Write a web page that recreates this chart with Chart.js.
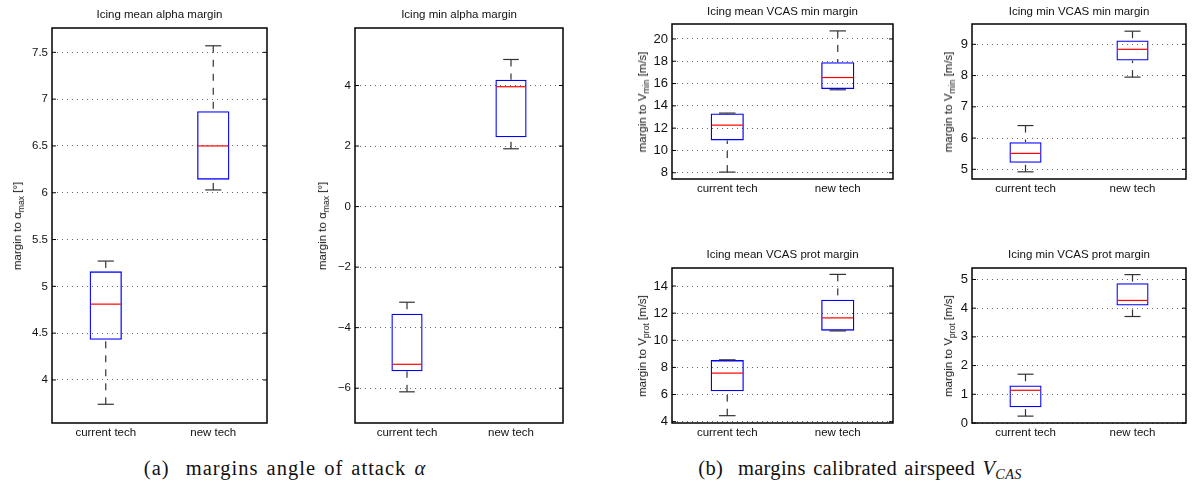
<!DOCTYPE html>
<html>
<head>
<meta charset="utf-8">
<script src="https://cdn.jsdelivr.net/npm/chart.js@4.4.0/dist/chart.umd.min.js"></script>
<style>
  body { margin: 0; width: 1192px; height: 486px; background: #fff; position: relative; overflow: hidden; font-family: "Liberation Sans", Arial, sans-serif; }
  .panel { position: absolute; }
  .ylab { position: absolute; font-size: 11.5px; white-space: nowrap; transform: translate(-50%, -50%) rotate(-90deg); color: #111; }
  .ylab sub { font-size: 75%; vertical-align: -0.35em; line-height: 0; }
  .cap { position: absolute; font-family: "Liberation Serif", "DejaVu Serif", serif; font-size: 20.5px; word-spacing: 2px; white-space: nowrap; transform: translate(-50%, -50%); color: #111; }
  .cap sub { font-size: 70%; vertical-align: -0.3em; line-height: 0; }
</style>
</head>
<body>
<div class="cap" style="left:285px; top:468px; letter-spacing:1px">(a)&nbsp; margins angle of attack <i>α</i></div>
<div class="cap" style="left:860px; top:468px; letter-spacing:0.3px">(b)&nbsp; margins calibrated airspeed <i>V<sub>CAS</sub></i></div>
<script>
const categories = ['current tech', 'new tech'];

// [lower whisker, q1, median, q3, upper whisker]
const meanAlphaCurrent = [3.74, 4.43, 4.81, 5.16, 5.27];
const meanAlphaNew = [6.03, 6.14, 6.50, 6.87, 7.57];
const minAlphaCurrent = [-6.12, -5.44, -5.21, -3.54, -3.16];
const minAlphaNew = [1.91, 2.29, 3.96, 4.19, 4.86];
const meanVminCurrent = [8.06, 10.90, 12.27, 13.32, 13.35];
const meanVminNew = [15.44, 15.50, 16.54, 17.91, 20.72];
const minVminCurrent = [4.92, 5.21, 5.51, 5.87, 6.40];
const minVminNew = [7.95, 8.48, 8.84, 9.12, 9.42];
const meanVprotCurrent = [4.44, 6.24, 7.58, 8.54, 8.56];
const meanVprotNew = [10.69, 10.71, 11.65, 12.99, 14.86];
const minVprotCurrent = [0.24, 0.55, 1.14, 1.31, 1.70];
const minVprotNew = [3.71, 4.09, 4.27, 4.87, 5.17];

const meanAlphaTicks = [4, 4.5, 5, 5.5, 6, 6.5, 7, 7.5];
const minAlphaTicks = [-6, -4, -2, 0, 2, 4];
const meanVminTicks = [8, 10, 12, 14, 16, 18, 20];
const minVminTicks = [5, 6, 7, 8, 9];
const meanVprotTicks = [4, 6, 8, 10, 12, 14];
const minVprotTicks = [0, 1, 2, 3, 4, 5];

const panels = [
  { title: 'Icing mean alpha margin', ylab: 'margin to α<sub>max</sub> [°]', stats: [meanAlphaCurrent, meanAlphaNew],
    ticks: meanAlphaTicks, min: 3.54, max: 7.76, area: [52, 28, 267, 423], titleY: 15, ylabX: 17, tickSize: 11.5 },
  { title: 'Icing min alpha margin', ylab: 'margin to α<sub>max</sub> [°]', stats: [minAlphaCurrent, minAlphaNew],
    ticks: minAlphaTicks, min: -7.15, max: 5.9, area: [355, 28, 563, 423], titleY: 15, ylabX: 322, tickSize: 11.5 },
  { title: 'Icing mean VCAS min margin', ylab: 'margin to V<sub>min</sub> [m/s]', stats: [meanVminCurrent, meanVminNew],
    ticks: meanVminTicks, min: 7.44, max: 21.34, area: [672, 24, 893, 179], titleY: 12, ylabX: 642, tickSize: 13 },
  { title: 'Icing min VCAS min margin', ylab: 'margin to V<sub>min</sub> [m/s]', stats: [minVminCurrent, minVminNew],
    ticks: minVminTicks, min: 4.69, max: 9.65, area: [972, 24, 1186, 179], titleY: 12, ylabX: 948, tickSize: 13 },
  { title: 'Icing mean VCAS prot margin', ylab: 'margin to V<sub>prot</sub> [m/s]', stats: [meanVprotCurrent, meanVprotNew],
    ticks: meanVprotTicks, min: 3.9, max: 15.33, area: [672, 268, 893, 423], titleY: 255, ylabX: 642, tickSize: 13 },
  { title: 'Icing min VCAS prot margin', ylab: 'margin to V<sub>prot</sub> [m/s]', stats: [minVprotCurrent, minVprotNew],
    ticks: minVprotTicks, min: 0, max: 5.4, area: [972, 268, 1186, 423], titleY: 255, ylabX: 948, tickSize: 13 },
];

// whiskers, medians, frame and inward ticks, matlab style
const boxPlot = {
  id: 'boxPlot',
  afterDatasetsDraw(chart, args, opts) {
    const { ctx, chartArea: a, scales: { x, y } } = chart;
    const meta = chart.getDatasetMeta(0);
    const line = (x1, y1, x2, y2) => { ctx.beginPath(); ctx.moveTo(x1, y1); ctx.lineTo(x2, y2); ctx.stroke(); };
    ctx.save();
    opts.stats.forEach((s, i) => {
      const cx = x.getPixelForValue(i);
      const half = meta.data[i].width / 2;
      const [lo, q1, med, q3, hi] = s.map(v => y.getPixelForValue(v));
      ctx.strokeStyle = '#333';
      ctx.lineWidth = 1.2;
      ctx.setLineDash([7, 7]);
      line(cx, hi, cx, q3);
      line(cx, lo, cx, q1);
      ctx.setLineDash([]);
      line(cx - half / 2, hi, cx + half / 2, hi);
      line(cx - half / 2, lo, cx + half / 2, lo);
      ctx.strokeStyle = '#ff0000';
      line(cx - half + 1, med, cx + half - 1, med);
    });
    ctx.strokeStyle = '#000';
    ctx.lineWidth = 1.5;
    ctx.strokeRect(a.left, a.top, a.right - a.left, a.bottom - a.top);
    ctx.lineWidth = 1;
    y.ticks.forEach(t => {
      const py = y.getPixelForValue(t.value);
      line(a.left, py, a.left + 4, py);
      line(a.right - 4, py, a.right, py);
    });
    ctx.restore();
  }
};

const font = { family: '"Liberation Sans", Arial, sans-serif', size: 11.5, lineHeight: 1.2 };

panels.forEach(p => {
  const [L, T, R, B] = p.area;
  const top = p.titleY - 10;
  const div = document.createElement('div');
  div.className = 'panel';
  div.style.left = (L - 50) + 'px';
  div.style.top = top + 'px';
  div.style.width = (R - L + 100) + 'px';
  div.style.height = (B - top + 22) + 'px';
  const canvas = document.createElement('canvas');
  div.appendChild(canvas);
  document.body.appendChild(div);

  const lab = document.createElement('div');
  lab.className = 'ylab';
  lab.style.left = p.ylabX + 'px';
  lab.style.top = ((T + B) / 2) + 'px';
  lab.innerHTML = p.ylab;
  document.body.appendChild(lab);

  new Chart(canvas, {
    type: 'bar',
    data: {
      labels: categories,
      datasets: [{
        data: p.stats.map(s => [s[1], s[3]]),
        backgroundColor: 'rgba(0,0,0,0)',
        borderColor: '#0000ff',
        borderWidth: 1.3,
        borderSkipped: false,
        barPercentage: 0.3,
        categoryPercentage: 1,
      }]
    },
    plugins: [boxPlot],
    options: {
      responsive: true,
      maintainAspectRatio: false,
      animation: false,
      layout: { padding: 0 },
      plugins: {
        legend: { display: false },
        tooltip: { enabled: false },
        title: {
          display: true,
          text: p.title,
          color: '#111',
          font: { ...font, weight: 'normal' },
          padding: { top: 3.1, bottom: (T - top) - 3.1 - 13.8 }
        },
        boxPlot: { stats: p.stats }
      },
      scales: {
        x: {
          grid: { display: false, drawTicks: false },
          border: { display: false },
          ticks: { color: '#111', font, padding: 3 },
          afterFit: s => { s.height = 22; }
        },
        y: {
          min: p.min,
          max: p.max,
          afterBuildTicks: s => { s.ticks = p.ticks.map(v => ({ value: v })); },
          grid: { color: 'rgba(0,0,0,0.6)', lineWidth: 1, drawTicks: false },
          border: { display: false, dash: [1, 4] },
          ticks: { color: '#111', font: { ...font, size: p.tickSize }, padding: 4, callback: v => String(v).replace('-', '\u2212') },
          afterFit: s => { s.width = 50; }
        },
        // empty right axis keeps the plot centred under the title
        yRight: {
          position: 'right',
          min: p.min,
          max: p.max,
          grid: { display: false, drawTicks: false },
          border: { display: false },
          ticks: { display: false },
          afterFit: s => { s.width = 50; }
        }
      }
    }
  });
});
</script>
</body>
</html>
